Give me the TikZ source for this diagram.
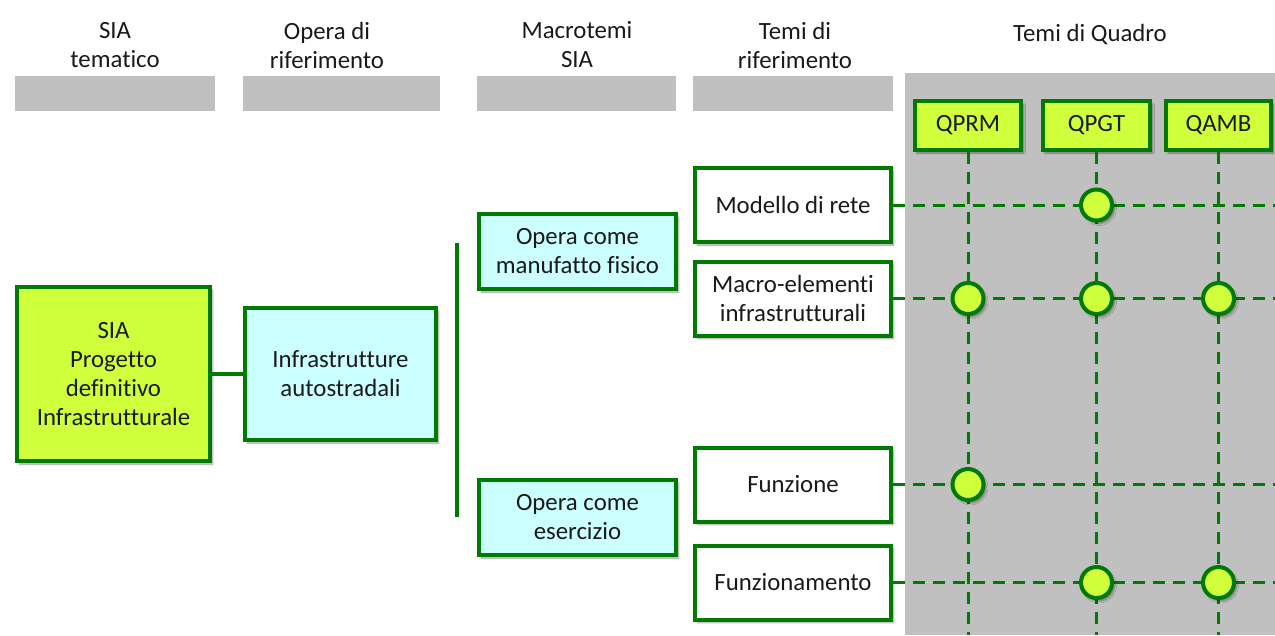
\documentclass[tikz,border=0pt]{standalone}
\usepackage{fontspec}
\setmainfont{Carlito}[Ligatures=NoCommon]
\usetikzlibrary{shadows.blur}
\definecolor{boxgreen}{RGB}{0,122,0}
\definecolor{limefill}{RGB}{208,255,60}
\definecolor{cyanfill}{RGB}{204,255,255}
\definecolor{bandgray}{RGB}{192,192,192}
\definecolor{inktext}{RGB}{25,25,25}

\begin{document}
\begin{tikzpicture}[x=1pt,y=-1pt,
  every node/.style={font=\fontsize{24.8}{29}\selectfont, align=center, text=inktext},
  softshadow/.style={blur shadow={shadow xshift=2.5pt, shadow yshift=-3pt, shadow blur steps=6, shadow opacity=40}},
  box/.style={draw=boxgreen, line width=4pt, inner sep=0pt, softshadow},
  limebox/.style={box, fill=limefill},
  cyanbox/.style={box, fill=cyanfill},
  whitebox/.style={box, fill=white, minimum width=196pt, minimum height=74pt},
  qbox/.style={limebox, minimum height=49pt},
  hdr/.style={inner sep=0pt},
  bar/.style={fill=bandgray, inner sep=0pt, minimum height=35pt},
  gridline/.style={draw=boxgreen, line width=3pt, dash pattern=on 12pt off 8pt},
  conn/.style={draw=boxgreen, line width=4pt},
  dot/.style={circle, draw=boxgreen, line width=4pt, fill=limefill, minimum size=31pt, inner sep=0pt, softshadow}
]
\useasboundingbox (0,0) rectangle (1275,635);

% column headings and grey bands
\node[hdr] (h1) at (115,45) {SIA\\tematico};
\node[hdr] (h2) at (327,45) {Opera di\\riferimento};
\node[hdr] (h3) at (577,45) {Macrotemi\\SIA};
\node[hdr] (h4) at (795,45) {Temi di\\riferimento};
\node[hdr] (h5) at (1090,35) {Temi di Quadro};
\node[bar, minimum width=200pt] (b1) at (115,93.5) {};
\node[bar, minimum width=197pt] (b2) at (341.5,93.5) {};
\node[bar, minimum width=199pt] (b3) at (576.5,93.5) {};
\node[bar, minimum width=200pt] (b4) at (793,93.5) {};

% grey panel of the framework themes
\node[fill=bandgray, inner sep=0pt, minimum width=370pt, minimum height=562pt] (quadro) at (1090,354) {};

% right edge and bottom edge of the grid
\coordinate (rightedge) at (1275,0);
\coordinate (bottomedge) at (0,635);

% hierarchy boxes
\node[limebox, minimum width=193pt, minimum height=174pt] (sia) at (113.5,374)
  {SIA\\Progetto\\definitivo\\Infrastrutturale};
\node[cyanbox, minimum width=191pt, minimum height=132pt] (infra) at (340.5,374)
  {Infrastrutture\\autostradali};
\node[cyanbox, minimum width=197pt, minimum height=75pt] (manuf) at (577.5,251.5)
  {Opera come\\manufatto fisico};
\node[cyanbox, minimum width=197pt, minimum height=75pt] (eserc) at (577.5,517.5)
  {Opera come\\esercizio};

\node[whitebox] (modello) at (793,205) {Modello\ di rete};
\node[whitebox] (macro) at (793,298.5) {Macro-elementi\\infrastrutturali};
\node[whitebox] (funz) at (793,484.5) {Funzione};
\node[whitebox] (funzm) at (793,582.5) {Funzionamento};

\draw[conn] (sia) -- (infra);
\coordinate (brtop) at (457,243);
\coordinate (brbot) at (457,517);
\draw[conn] (brtop) -- (brbot);

% framework theme headers
\node[qbox, minimum width=106pt] (qprm) at (968,125.5) {QPRM};
\node[qbox, minimum width=107pt] (qpgt) at (1096.5,125.5) {QPGT};
\node[qbox, minimum width=105pt] (qamb) at (1218.5,125.5) {QAMB};

% dashed grid
\draw[gridline] (qprm.south) -- (qprm.south |- bottomedge);
\draw[gridline] (qpgt.south) -- (qpgt.south |- bottomedge);
\draw[gridline] (qamb.south) -- (qamb.south |- bottomedge);
\draw[gridline] (modello.east) -- (modello.east -| rightedge);
\draw[gridline] (macro.east) -- (macro.east -| rightedge);
\draw[gridline] (funz.east) -- (funz.east -| rightedge);
\draw[gridline] (funzm.east) -- (funzm.east -| rightedge);

% relations
\node[dot] (d1) at (modello.east -| qpgt.south) {};
\node[dot] (d2) at (macro.east -| qprm.south) {};
\node[dot] (d3) at (macro.east -| qpgt.south) {};
\node[dot] (d4) at (macro.east -| qamb.south) {};
\node[dot] (d5) at (funz.east -| qprm.south) {};
\node[dot] (d6) at (funzm.east -| qpgt.south) {};
\node[dot] (d7) at (funzm.east -| qamb.south) {};
\end{tikzpicture}
\end{document}
